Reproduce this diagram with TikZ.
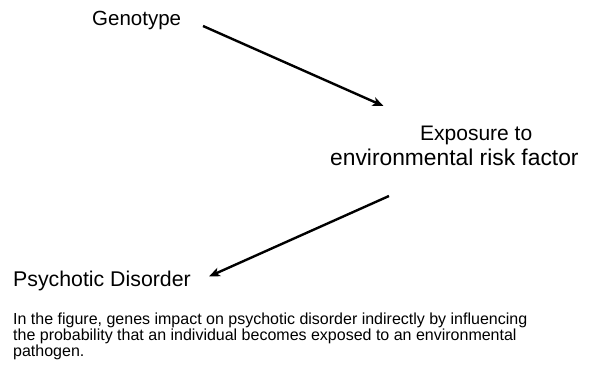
\documentclass[tikz,border=0pt]{standalone}
\usepackage{fontspec}
\setmainfont{Liberation Sans}
\usetikzlibrary{arrows.meta}
\begin{document}
\begin{tikzpicture}[x=1pt,y=-1pt,
  lbl/.style={inner sep=0pt,anchor=base west},
  captext/.style={inner sep=0pt,anchor=base west,font=\fontsize{16}{16}\selectfont},
  conn/.style={line width=2.4pt,-{Stealth[length=11pt,width=9pt,inset=3pt]}}]
\useasboundingbox (0,0) rectangle (604,366);
\fill[white] (0,0) rectangle (604,366);
\node[lbl,font=\fontsize{20.5}{24}\selectfont] (geno) at (92,26) {Genotype};
\node[lbl,font=\fontsize{21}{24}\selectfont] (exp1) at (420,140.5) {Exposure to};
\node[lbl,font=\fontsize{22.8}{24}\selectfont] (exp2) at (330,165) {environmental risk factor};
\node[lbl,font=\fontsize{21.3}{24}\selectfont] (psy) at (13,286.5) {Psychotic Disorder};
\node[captext] (c1) at (13,324.5) {In the figure, genes impact on psychotic disorder indirectly by influencing};
\node[captext] (c2) at (13,340.5) {the probability that an individual becomes exposed to an environmental};
\node[captext] (c3) at (13,356.5) {pathogen.};
\coordinate (a1s) at (203,26);
\coordinate (a1e) at (383.5,106);
\coordinate (a2s) at (389,196);
\coordinate (a2e) at (209,276.5);
\draw[conn] (a1s) -- (a1e);
\draw[conn] (a2s) -- (a2e);
\end{tikzpicture}
\end{document}
